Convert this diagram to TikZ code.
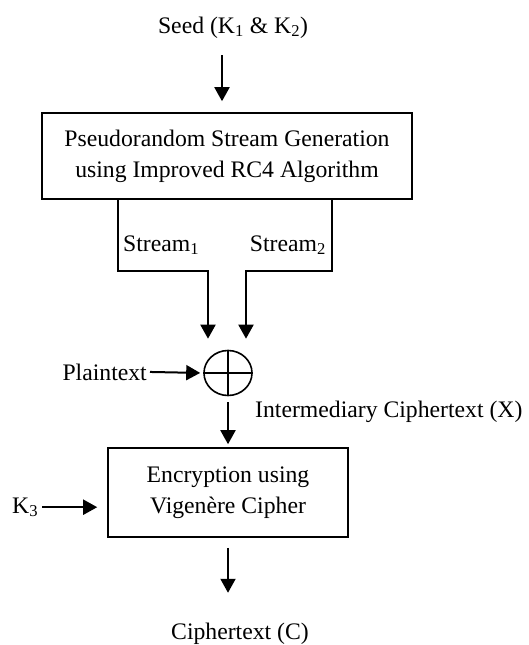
\documentclass[tikz,border=0pt]{standalone}
\usepackage{fontspec}
\setmainfont{Liberation Serif}
\usetikzlibrary{arrows.meta,shapes.geometric}

\tikzset{
  lbl/.style={inner sep=0pt, font=\fontsize{23.7}{31}\selectfont},
  blk/.style={draw, line width=1.6pt, align=center, inner sep=0pt,
              font=\fontsize{23.7}{31}\selectfont},
  arr/.style={line width=2pt, -{Triangle[length=14pt,width=15pt]}},
  wire/.style={line width=1.6pt},
}

\begin{document}
\begin{tikzpicture}[x=1pt,y=-1pt]
  \useasboundingbox (0,0) rectangle (528,645);

  % key input
  \node[lbl, anchor=base] (seed) at (233,33) {Seed (K\textsubscript{1} \& K\textsubscript{2})};

  % keystream generator
  \node[blk, minimum width=370pt, minimum height=86pt] (prng) at (227,156)
    {Pseudorandom Stream Generation\\using Improved RC4 Algorithm};

  % XOR combiner
  \node[draw, ellipse, wire, minimum width=48pt, minimum height=45pt, inner sep=0pt] (xor) at (228,373) {};
  \draw[wire] (xor.north) -- (xor.south) (xor.west) -- (xor.east);

  % second stage cipher
  \node[blk, minimum width=240pt, minimum height=89pt] (enc) at (228,492.5)
    {Encryption using\\Vigenère Cipher};

  % labels
  \node[lbl, anchor=base west] (s1) at (123,251) {Stream\textsubscript{1}};
  \node[lbl, anchor=base east] (s2) at (326,251) {Stream\textsubscript{2}};
  \node[lbl, anchor=base east] (plain) at (147,380) {Plaintext};
  \node[lbl, anchor=base west] (inter) at (255,417) {Intermediary Ciphertext (X)};
  \node[lbl, anchor=base west] (k3) at (12,513) {K\textsubscript{3}};
  \node[lbl, anchor=base] (cipher) at (240,639) {Ciphertext (C)};

  % connectors
  \draw[arr, shorten >=11pt] ([xshift=-11pt, yshift=-17pt]seed.south) -- ([xshift=-5pt]prng.north);
  \draw[arr] ([xshift=-109pt]prng.south) -- ++(0,71) -| ([xshift=-20pt, yshift=11pt]xor.north);
  \draw[arr] ([xshift=105pt]prng.south) -- ++(0,71) -| ([xshift=18pt, yshift=11pt]xor.north);
  \draw[arr, shorten <=3pt, shorten >=3pt] (plain.east) -- (xor.west);
  \draw[arr, shorten <=6pt, shorten >=3pt] (xor.south) -- (enc.north);
  \draw[arr, shorten <=4pt, shorten >=10pt] (k3.east) -- (k3.east -| enc.west);
  \draw[arr, shorten <=10pt, shorten >=29.6pt] (enc.south) -- (enc.south |- cipher.north);
\end{tikzpicture}
\end{document}
